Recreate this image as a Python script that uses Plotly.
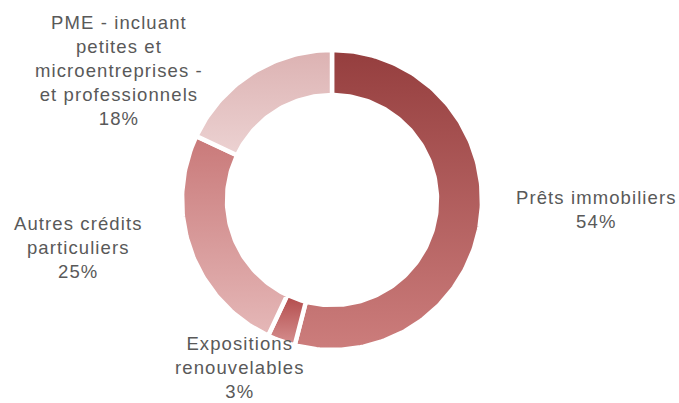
import numpy as np
import plotly.graph_objects as go

# Loan book breakdown, clockwise from 12 o'clock
categories = [
    "Prêts immobiliers",
    "Expositions<br>renouvelables",
    "Autres crédits<br>particuliers",
    "PME - incluant<br>petites et<br>microentreprises -<br>et professionnels",
]
shares = [54, 3, 25, 18]
# top / bottom colours of each slice's vertical gradient
grad_top = ["#953e3e", "#b24a4a", "#c97979", "#dcb2b2"]
grad_bottom = ["#cc7d7c", "#d69090", "#e5b8b8", "#ecd2d2"]

# label anchor positions (paper fraction) for each slice
label_x = [0.878, 0.353, 0.115, 0.175]
label_y = [0.48, 0.088, 0.385, 0.825]

W, H = 679, 403
cx_px, cy_px = 332, 200      # donut centre in pixels
R_OUT_PX = 150.0             # outer radius in pixels
HOLE = 0.70                  # inner / outer radius

fig = go.Figure()

total = float(sum(shares))
start = 0.0
for name, v, ct, cb in zip(categories, shares, grad_top, grad_bottom):
    a0 = start / total * 2 * np.pi
    a1 = (start + v) / total * 2 * np.pi
    start += v
    n = max(8, int(v * 3))
    t = np.linspace(a0, a1, n)
    # clockwise from the top: x = sin, y = cos
    xo, yo = np.sin(t), np.cos(t)
    xi, yi = HOLE * np.sin(t[::-1]), HOLE * np.cos(t[::-1])
    xs = np.concatenate([xo, xi, xo[:1]])
    ys = np.concatenate([yo, yi, yo[:1]])
    fig.add_trace(go.Scatter(
        x=xs, y=ys, mode="lines", fill="toself",
        line=dict(color="white", width=4.5),
        fillgradient=dict(type="vertical",
                          colorscale=[[0, cb], [1, ct]]),
        hoverinfo="skip", showlegend=False, name=name,
    ))

for name, v, lx, ly in zip(categories, shares, label_x, label_y):
    text = "<br>".join(
        f'<span style="letter-spacing:1.1px">{line}</span>'
        for line in f"{name}<br>{v}%".split("<br>")
    )
    fig.add_annotation(
        x=lx, y=ly, xref="paper", yref="paper",
        text=text, showarrow=False,
        xanchor="center", yanchor="middle", align="center",
        font=dict(family="Liberation Sans, Arial, sans-serif",
                  size=18.5, color="#595959"),
    )

# axis ranges chosen so that one data unit equals the outer radius in pixels
fig.update_xaxes(range=[-cx_px / R_OUT_PX, (W - cx_px) / R_OUT_PX],
                 visible=False, fixedrange=True)
fig.update_yaxes(range=[-(H - cy_px) / R_OUT_PX, cy_px / R_OUT_PX],
                 visible=False, fixedrange=True)
fig.update_layout(
    width=W, height=H,
    margin=dict(l=0, r=0, t=0, b=0),
    paper_bgcolor="white", plot_bgcolor="white",
)

fig.write_html("out.html")
